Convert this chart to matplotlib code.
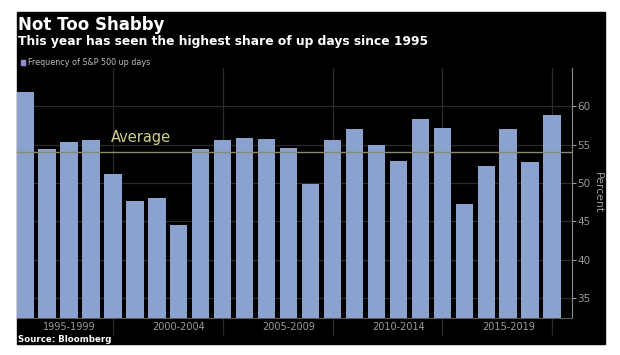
import numpy as np
import matplotlib
matplotlib.use("Agg")
import matplotlib.pyplot as plt
from matplotlib.patches import Rectangle

years = list(range(1995, 2020))
up_share = [61.9, 54.4, 55.4, 55.6, 51.2,
            47.7, 48.1, 44.5, 54.4, 55.6,
            55.9, 55.8, 54.6, 49.9, 55.6,
            57.1, 54.9, 52.9, 58.4, 57.2,
            47.3, 52.2, 57.0, 52.7, 58.9]
average = 54.0
group_labels = ["1995-1999", "2000-2004", "2005-2009", "2010-2014", "2015-2019"]
y_ticks = [35, 40, 45, 50, 55, 60]

W, H = 620, 355
fig = plt.figure(figsize=(W / 100, H / 100), dpi=100, facecolor="white")

# black panel
fig.patches.append(Rectangle((17 / W, 1 - 344 / H), 588 / W, 332 / H,
                             transform=fig.transFigure, color="black", zorder=-10))

ax = fig.add_axes([17 / W, 1 - 318 / H, 555 / W, 250 / H])
ax.set_facecolor("black")

x = np.arange(len(years))
ax.bar(x, up_share, width=0.8, color="#8aa2cd", zorder=3)

ax.set_xlim(-0.36, 24.9)
ax.set_ylim(32.4, 65)

# grid
for yv in y_ticks:
    ax.axhline(yv, color="#2a2a2a", lw=0.9, zorder=1)
for xv in range(4, 25, 5):
    ax.axvline(xv, color="#2a2a2a", lw=0.9, zorder=1)

ax.axhline(average, color="#8a8a72", lw=1.0, zorder=4)
ax.text(3.9, 56.0, "Average", color="#cfcf85", fontsize=10.5, va="center", ha="left", zorder=5)

for s in ["left", "top"]:
    ax.spines[s].set_visible(False)
ax.spines["right"].set_color("#8a8a8a")
ax.spines["bottom"].set_color("#5a5a5a")

ax.yaxis.tick_right()
ax.set_yticks(y_ticks)
ax.set_yticklabels([str(v) for v in y_ticks])
ax.tick_params(axis="y", colors="#9a9a9a", labelsize=7.5, length=3, pad=1)
ax.yaxis.set_label_position("right")
ax.set_ylabel("Percent", color="#9a9a9a", fontsize=7.8, rotation=270, labelpad=9)

ax.set_xticks([2, 7, 12, 17, 22])
ax.set_xticklabels(group_labels)
ax.set_xticks(range(4, 25, 5), minor=True)
ax.tick_params(axis="x", which="major", length=0, colors="#9a9a9a", labelsize=7.0, pad=3)
ax.tick_params(axis="x", which="minor", length=12, color="#2a2a2a", width=0.9)

fig.text(18 / W, 1 - 25 / H, "Not Too Shabby", color="white", fontsize=12,
         fontweight="bold", va="center", ha="left")
fig.text(18 / W, 1 - 42 / H, "This year has seen the highest share of up days since 1995",
         color="white", fontsize=8.8, fontweight="bold", va="center", ha="left")
fig.patches.append(Rectangle((21 / W, 1 - 65 / H), 4 / W, 5 / H,
                             transform=fig.transFigure, color="#8e8ed8", zorder=5))
fig.text(28 / W, 1 - 62.5 / H, "Frequency of S&P 500 up days", color="#bbbbbb",
         fontsize=5.8, va="center", ha="left")
fig.text(18 / W, 1 - 339 / H, "Source: Bloomberg", color="white", fontsize=6.2,
         fontweight="bold", va="center", ha="left")

fig.savefig("out.png", dpi=100, facecolor="white")
